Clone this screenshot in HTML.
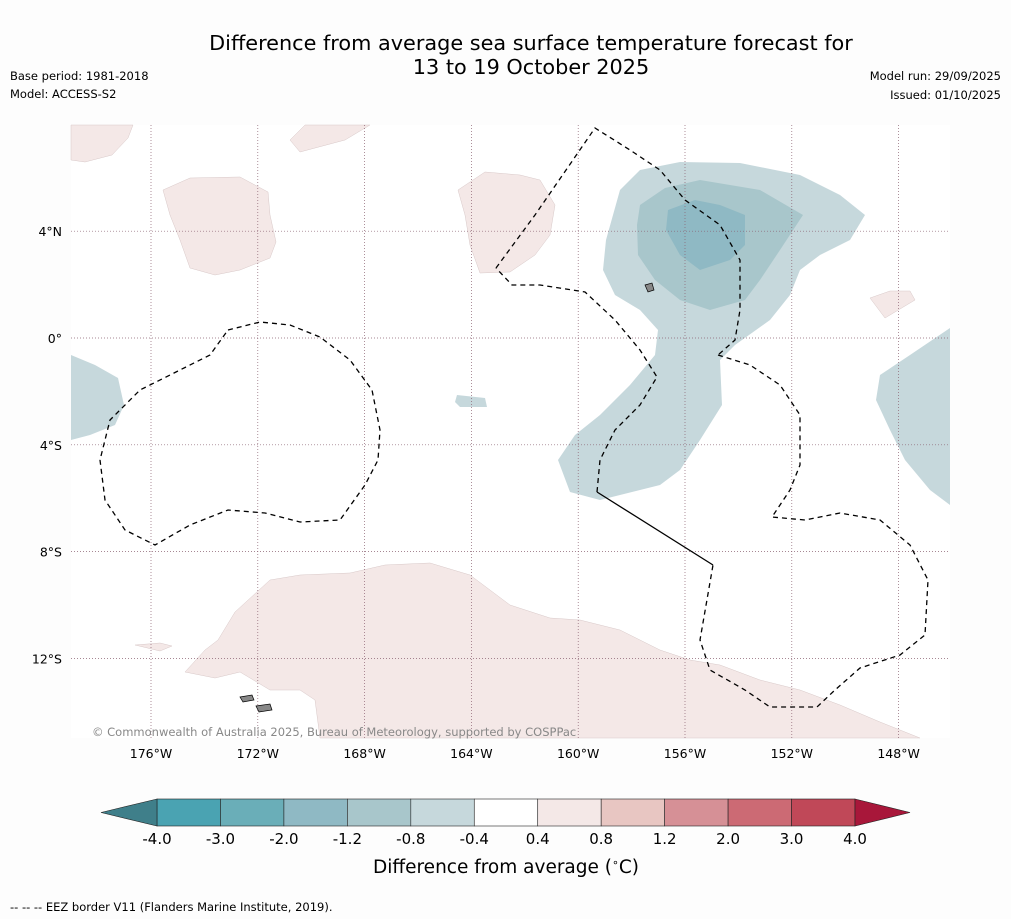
<!DOCTYPE html>
<html><head><meta charset="utf-8"><style>
body{margin:0;background:#fdfdfd;width:1011px;height:919px;overflow:hidden;font-family:"DejaVu Sans","Liberation Sans",sans-serif;}
svg{display:block}
</style></head><body>
<svg id="c" width="1011" height="919" xmlns="http://www.w3.org/2000/svg">
<text x="531" y="50" text-anchor="middle" font-size="20.8">Difference from average sea surface temperature forecast for</text>
<text x="531" y="74" text-anchor="middle" font-size="20.8">13 to 19 October 2025</text>
<text x="10" y="80" font-size="11.5">Base period: 1981-2018</text>
<text x="10" y="98" font-size="11.5">Model: ACCESS-S2</text>
<text x="1001" y="80" font-size="11.5" text-anchor="end">Model run: 29/09/2025</text>
<text x="1001" y="99" font-size="11.5" text-anchor="end">Issued: 01/10/2025</text>
<g id="map"></g>
<g id="cb"></g>
<text x="506" y="873" text-anchor="middle" font-size="18.5">Difference from average (<tspan font-size="11" dy="-7">∘</tspan><tspan dy="7">C)</tspan></text>
<text x="10" y="911" font-size="11.5">--  --  -- EEZ border V11 (Flanders Marine Institute, 2019).</text>
</svg>
<script>
const levels=[-4.0,-3.0,-2.0,-1.2,-0.8,-0.4,0.4,0.8,1.2,2.0,3.0,4.0];
const levelColors=["#4aa3b2","#6aaeb8","#8fb9c4","#a8c6cb","#c6d8dc","#ffffff","#f4e8e7","#e8c6c2","#d69096","#cc6a74","#c04858"];
const underColor="#3f7f8a", overColor="#a8173a";
const lonTicks=[176,172,168,164,160,156,152,148];
const latTicks=[4,0,-4,-8,-12];
const NS="http://www.w3.org/2000/svg";
function mk(t,a,p){const e=document.createElementNS(NS,t);for(const k in a)e.setAttribute(k,a[k]);p.appendChild(e);return e;}
const X=lonW=>151+(176-lonW)*26.7;
const Y=lat=>338-lat*26.7;
const map=document.getElementById('map');
mk('rect',{x:71,y:125,width:879,height:613,fill:'#ffffff'},map);
const pts=a=>a.map(p=>p.join(',')).join(' ');
const blue1=[[620,190],[640,170],[680,162],[740,163],[800,175],[840,195],[865,215],[850,240],[820,255],[800,270],[790,295],[770,320],[735,345],[720,360],[722,405],[700,440],[680,470],[660,485],[600,500],[570,492],[558,460],[575,435],[600,415],[630,385],[655,355],[658,330],[640,310],[615,295],[603,270],[606,240]];
const blue2=[[640,205],[665,188],[700,180],[760,190],[803,215],[780,250],[760,280],[745,300],[710,310],[680,300],[655,280],[638,255],[637,225]];
const blue3=[[668,210],[695,200],[720,205],[745,215],[745,245],[730,260],[700,270],[680,255],[666,230]];
const blueR=[[950,328],[950,505],[930,490],[905,460],[890,430],[876,400],[880,375],[910,355]];
const blueL=[[71,355],[95,365],[118,378],[124,405],[115,425],[90,435],[71,440]];
const blueS=[[457,395],[485,398],[487,407],[460,407],[455,402]];
const pinks=[
[[71,125],[133,125],[128,138],[112,155],[85,162],[71,160]],
[[163,190],[190,178],[240,177],[268,192],[270,215],[276,242],[270,258],[240,270],[215,275],[190,268],[180,240],[170,215]],
[[290,140],[305,125],[370,125],[345,140],[300,152]],
[[458,190],[485,172],[520,175],[540,180],[555,205],[550,235],[535,255],[510,272],[480,273],[470,245],[465,215]],
[[870,298],[890,291],[910,291],[915,300],[885,318]],
[[135,645],[160,643],[172,646],[160,651]],
[[185,672],[205,650],[218,640],[235,612],[270,580],[300,575],[350,573],[385,565],[430,563],[470,575],[510,605],[550,618],[580,620],[620,630],[660,650],[690,660],[720,665],[760,680],[800,690],[840,705],[880,722],[920,738],[320,738],[315,700],[300,690],[270,690],[240,672],[215,678]]];
pinks.forEach((p,i)=>{const e=mk('polygon',{points:pts(p),fill:levelColors[6],stroke:'#d8c8c8','stroke-width':0.5},map);

});
[[blue1,4],[blue2,3],[blue3,2],[blueR,4],[blueL,4],[blueS,4]].forEach(([p,c])=>{const e=mk('polygon',{points:pts(p),fill:levelColors[c]},map);

});
lonTicks.forEach(l=>{const x=X(l);const e=mk('line',{x1:x,x2:x,y1:125,y2:738,stroke:'#8a6070','stroke-width':0.7,'stroke-dasharray':'1,2'},map);


const t=mk('text',{x:x,y:758,'text-anchor':'middle','font-size':12.5},map);t.textContent=l+'°W';

});
latTicks.forEach(l=>{const y=Y(l);const e=mk('line',{x1:71,x2:950,y1:y,y2:y,stroke:'#8a6070','stroke-width':0.7,'stroke-dasharray':'1,2'},map);


const t=mk('text',{x:62,y:y+5,'text-anchor':'end','font-size':12.5},map);t.textContent=l===0?'0°':Math.abs(l)+'°'+(l>0?'N':'S');

});
const eezA=[[496,268],[535,215],[595,128],[630,150],[660,170],[685,200],[720,225],[740,260],[740,310],[735,340],[718,355]];
const eezB=[[718,355],[750,365],[780,385],[800,415],[800,465],[790,490],[772,517],[805,520],[840,513],[880,520],[910,545],[928,580],[925,635],[900,655],[860,668],[835,690],[817,707],[770,707],[745,690],[710,670],[700,640],[713,565]];
const eezC=[[597,492],[600,460],[615,430],[640,405],[657,377],[640,350],[615,320],[585,292],[540,285],[512,285],[496,268]];
const eezL=[[228,330],[260,322],[290,325],[320,337],[350,360],[372,390],[380,430],[378,460],[365,485],[340,520],[300,522],[265,513],[228,510],[190,525],[155,545],[125,530],[105,500],[100,460],[110,420],[140,390],[180,370],[210,355],[228,330]];
[eezA,eezB,eezC,eezL].forEach(p=>{const e=mk('polyline',{points:pts(p),fill:'none',stroke:'#000','stroke-width':1.3,'stroke-dasharray':'5,4'},map);

});
const s=mk('line',{x1:713,y1:565,x2:597,y2:492,stroke:'#000','stroke-width':1.3},map);


[[240,697,252,700],[256,706,270,710],[645,285,652,290]].forEach(r=>{const e=mk('polygon',{points:`${r[0]},${r[1]} ${r[2]},${r[1]-2} ${r[2]+2},${r[3]} ${r[0]+3},${r[3]+2}`,fill:'#888',stroke:'#000','stroke-width':0.7},map);

});
const cp=mk('text',{x:92,y:736,'font-size':11.5,fill:'#888'},map);cp.textContent='© Commonwealth of Australia 2025, Bureau of Meteorology, supported by COSPPac';


const cb=document.getElementById('cb');
const x0=157,x1=855,yT=799,yB=826,n=levelColors.length,w=(x1-x0)/n;
levelColors.forEach((c,i)=>{const e=mk('rect',{x:x0+i*w,y:yT,width:w,height:yB-yT,fill:c,stroke:'#222','stroke-width':0.6},cb);

});
const u=mk('polygon',{points:`${x0},${yT} 101,${(yT+yB)/2} ${x0},${yB}`,fill:underColor,stroke:'#222','stroke-width':0.6},cb);


const o=mk('polygon',{points:`${x1},${yT} 910,${(yT+yB)/2} ${x1},${yB}`,fill:overColor,stroke:'#222','stroke-width':0.6},cb);


levels.forEach((v,i)=>{const t=mk('text',{x:x0+i*w,y:844,'text-anchor':'middle','font-size':15},cb);t.textContent=v.toFixed(1);

});
</script>
</body></html>
